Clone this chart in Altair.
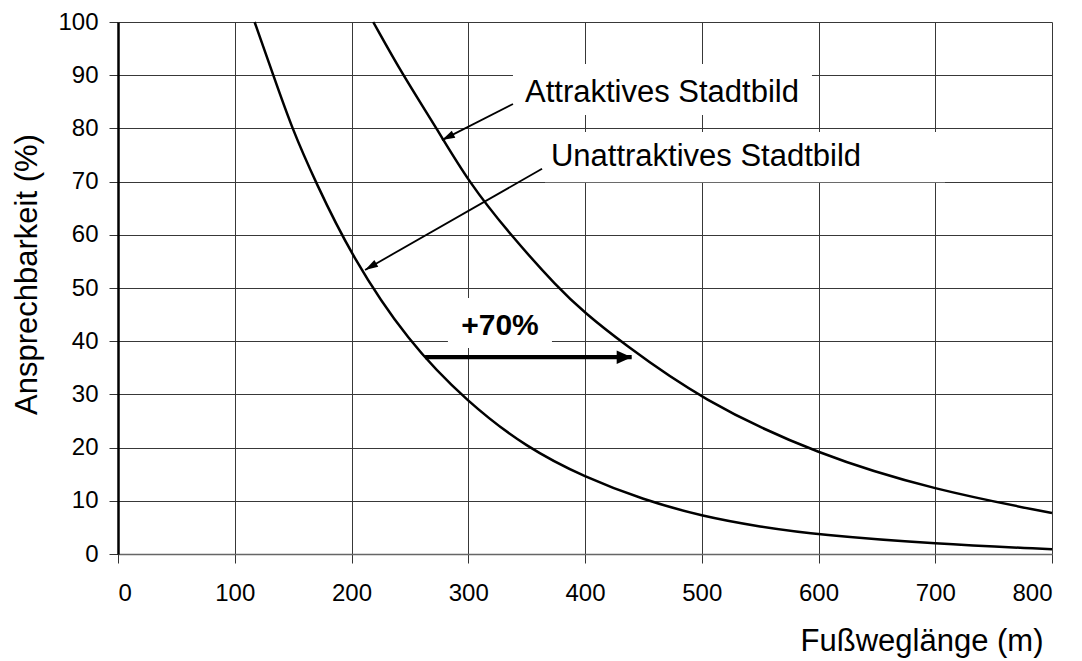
import math
import altair as alt
import pandas as pd

# ---- data ----
unattr_x = [117, 133, 149, 169, 200, 248, 300, 350, 400, 450, 500, 550, 600, 700, 800]
unattr_y = [100, 90, 80, 70, 56, 40, 28.4, 20.0, 14.4, 10.2, 7.1, 5.1, 3.6, 1.9, 0.9]
attr_x = [218.6, 244, 273, 300, 336, 377, 400, 430, 500, 600, 700, 800]
attr_y = [100, 90, 80, 70, 60, 50, 45.3, 40, 28.9, 18.6, 12.0, 7.7]

x_ticks = [0, 100, 200, 300, 400, 500, 600, 700, 800]
y_ticks = [0, 10, 20, 30, 40, 50, 60, 70, 80, 90, 100]

# annotations (data units)
label_text = ["Attraktives Stadtbild", "Unattraktives Stadtbild"]
label_x = [348.6, 370.8]
label_y = [85.0, 72.9]
pct_text = ["+70%"]
pct_x = [327.2]
pct_y = [41.2]

box_x = [338.3, 365.7, 282.6]
box_x2 = [594.4, 708.4, 371.7]
box_y = [82.5, 69.9, 38.7]
box_y2 = [92.1, 79.3, 48.1]

arrow_x = [338.3, 363.2, 263.0]
arrow_y = [84.6, 72.4, 37.0]
arrow_x2 = [277.5, 211.6, 440.0]
arrow_y2 = [77.8, 53.4, 37.0]
arrow_w = [1.8, 1.8, 4.3]

W, H = 934, 532
FONT = "Liberation Sans"

curves = pd.DataFrame(
    {"x": unattr_x + attr_x,
     "y": unattr_y + attr_y,
     "s": ["Unattraktiv"] * len(unattr_x) + ["Attraktiv"] * len(attr_x),
     "o": list(range(len(unattr_x))) + list(range(len(attr_x)))}
)

boxes = pd.DataFrame({"x": box_x, "x2": box_x2, "y": box_y, "y2": box_y2})


def angle_of(x1, y1, x2, y2):
    dx = (x2 - x1) * W / 800
    dy = -(y2 - y1) * H / 100
    return math.degrees(math.atan2(dx, -dy)) % 360


arrows = pd.DataFrame({"x": arrow_x, "y": arrow_y, "x2": arrow_x2, "y2": arrow_y2, "w": arrow_w})
arrows["ang"] = [angle_of(a, b, c, d) for a, b, c, d in zip(arrow_x, arrow_y, arrow_x2, arrow_y2)]
arrows["sz"] = [676, 676, 900]
thin_heads = arrows.iloc[:2]
thick_heads = arrows.iloc[2:]

labels = pd.DataFrame({"t": label_text, "x": label_x, "y": label_y})
pct = pd.DataFrame({"t": pct_text, "x": pct_x, "y": pct_y})

xs = alt.Scale(domain=[0, 800], nice=False, zero=False)
ys = alt.Scale(domain=[0, 100], nice=False, zero=False)

x_axis = alt.Axis(
    values=x_ticks, title="Fußweglänge (m)", grid=True, gridColor="#383838", gridWidth=1,
    gridOpacity=1, domainColor="#666666", domainWidth=1.5, tickColor="#333333", tickSize=9,
    labelFontSize=24, labelFont=FONT, labelColor="black", labelPadding=18,
    titleFontSize=31, titleFont=FONT, titleFontWeight="normal", titleColor="black",
    titleAnchor="end", titleAlign="right", titleBaseline="alphabetic", titleX=925, titleY=96,
)
y_axis = alt.Axis(
    values=y_ticks, title="Ansprechbarkeit (%)", grid=True, gridColor="#383838", gridWidth=1,
    gridOpacity=1, domainColor="black", domainWidth=2.5, tickColor="#333333", tickSize=9,
    labelFontSize=24, labelFont=FONT, labelColor="black", labelPadding=11,
    titleFontSize=31, titleFont=FONT, titleFontWeight="normal", titleColor="black",
    titleAngle=270, titleAlign="center", titleBaseline="alphabetic", titleX=-82, titleY=252,
)

lines = alt.Chart(curves).mark_line(color="black", strokeWidth=2.5, interpolate="basis").encode(
    x=alt.X("x:Q", scale=xs, axis=x_axis),
    y=alt.Y("y:Q", scale=ys, axis=y_axis),
    detail="s:N",
    order="o:Q",
)

rects = alt.Chart(boxes).mark_rect(color="white").encode(
    x=alt.X("x:Q", scale=xs), x2="x2:Q", y=alt.Y("y:Q", scale=ys), y2="y2:Q"
)

rules = alt.Chart(arrows).mark_rule(color="black").encode(
    x=alt.X("x:Q", scale=xs), x2="x2:Q", y=alt.Y("y:Q", scale=ys), y2="y2:Q",
    strokeWidth=alt.StrokeWidth("w:Q", scale=None),
)

head_thin = alt.Chart(thin_heads).mark_point(
    shape="M0,0 L-0.3,1 L0.3,1 Z", filled=True, color="black", opacity=1, strokeWidth=0
).encode(
    x=alt.X("x2:Q", scale=xs), y=alt.Y("y2:Q", scale=ys),
    angle=alt.Angle("ang:Q", scale=None), size=alt.Size("sz:Q", scale=None),
)
head_thick = alt.Chart(thick_heads).mark_point(
    shape="M0,0 L-0.45,1 L0.45,1 Z", filled=True, color="black", opacity=1, strokeWidth=0
).encode(
    x=alt.X("x2:Q", scale=xs), y=alt.Y("y2:Q", scale=ys),
    angle=alt.Angle("ang:Q", scale=None), size=alt.Size("sz:Q", scale=None),
)

texts = alt.Chart(labels).mark_text(
    align="left", baseline="alphabetic", font=FONT, fontSize=31, color="black"
).encode(x=alt.X("x:Q", scale=xs), y=alt.Y("y:Q", scale=ys), text="t:N")

pct_txt = alt.Chart(pct).mark_text(
    align="center", baseline="alphabetic", font=FONT, fontSize=30, fontWeight="bold", color="black"
).encode(x=alt.X("x:Q", scale=xs), y=alt.Y("y:Q", scale=ys), text="t:N")

chart = alt.layer(rects, lines, rules, head_thin, head_thick, texts, pct_txt).properties(
    width=W, height=H,
    autosize=alt.AutoSizeParams(type="none"),
    padding={"left": 110, "top": 14, "right": 22, "bottom": 105},
    background="white",
).configure_view(stroke=None)

chart.save("out.html", embed_options={"renderer": "svg", "actions": False})
